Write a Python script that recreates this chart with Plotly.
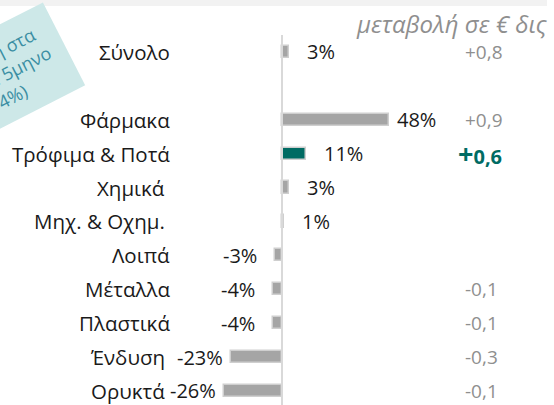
import plotly.graph_objects as go

categories = ["Σύνολο", "Φάρμακα", "Τρόφιμα & Ποτά", "Χημικά\u00a0", "Μηχ. & Οχημ.\u00a0",
              "Λοιπά", "Μέταλλα", "Πλαστικά", "Ένδυση\u00a0", "Ορυκτά\u00a0"]
pct_change = [3, 48, 11, 3, 1, -3, -4, -4, -23, -26]
eur_change = ["+0,8", "+0,9", "+0,6", "", "", "", "-0,1", "-0,1", "-0,3", "-0,1"]
highlight = "Τρόφιμα & Ποτά"
title_text = "μεταβολή σε € δις"
box_lines = ["Συμβολή στα", "εξαγωγ. 5μηνο", "(14%)"]

W, H = 554, 405
FONT = "Open Sans"
GRAY_BAR = "#a5a5a5"
TEAL = "#006b63"
GRAY_TXT = "#8f8f8f"

n = len(categories)
# top item (total) separated by an empty slot
ypos = [n - 1 - i + (1 if i == 0 else 0) for i in range(n)]

colors = [TEAL if c == highlight else GRAY_BAR for c in categories]

fig = go.Figure()
fig.add_trace(go.Bar(
    x=pct_change, y=ypos, orientation="h", width=0.36,
    marker=dict(color=colors, line=dict(color="#cfcfcf", width=1.5)),
    hoverinfo="skip",
))

# zero line
fig.add_shape(type="line", x0=0, x1=0, y0=-1, y1=10.5, xref="x", yref="y",
              line=dict(color="#d9d9d9", width=2), layer="above")

ann = []
for c, v, yv, e in zip(categories, pct_change, ypos, eur_change):
    # category label
    ann.append(dict(x=172 / W, xref="paper", y=yv, yref="y", text=c, showarrow=False,
                    xanchor="right", yanchor="middle",
                    font=dict(family=FONT, size=20.5, color="#1a1a1a")))
    # percent label
    gap = 6 if abs(v) > 20 else 16
    ann.append(dict(x=v, xref="x", y=yv, yref="y", text=f"{v}%", showarrow=False,
                    xanchor="left" if v >= 0 else "right", yanchor="middle",
                    xshift=gap if v >= 0 else -gap,
                    font=dict(family=FONT, size=20, color="#1a1a1a")))
    # euro change
    if e:
        if c == highlight:
            txt = "<b><span style='font-size:27px'>" + e[0] + "</span>" + e[1:] + "</b>"
            col = TEAL
            xa = 456 / W
            fs = 20
        else:
            txt = e
            col = GRAY_TXT
            xa = 463 / W
            fs = 19
        ann.append(dict(x=xa, xref="paper", y=yv, yref="y", text=txt, showarrow=False,
                        xanchor="left", yanchor="middle",
                        font=dict(family=FONT, size=fs, color=col)))

# title
ann.append(dict(x=354 / W, xref="paper", y=1 - 23 / H, yref="paper", text=f"<i>{title_text}</i>",
                showarrow=False, xanchor="left", yanchor="middle",
                font=dict(family=FONT, size=24, color=GRAY_TXT)))

# rotated callout box
ann.append(dict(x=-5 / W, xref="paper", y=1 - 79 / H, yref="paper",
                text="<br>".join(box_lines), showarrow=False,
                xanchor="center", yanchor="middle", textangle=-27, align="center",
                bgcolor="#cde8e8", borderpad=11, width=132, height=70,
                font=dict(family=FONT, size=18, color="#3a8ea3")))

# top band
fig.add_shape(type="rect", xref="paper", yref="paper", x0=0, x1=547 / W, y0=1 - 6 / H, y1=1,
              fillcolor="#f2f2f2", line=dict(width=0), layer="below")

fig.update_layout(
    width=W, height=H, margin=dict(l=0, r=0, t=0, b=0),
    paper_bgcolor="white", plot_bgcolor="rgba(0,0,0,0)",
    showlegend=False, annotations=ann,
    xaxis=dict(range=[-127, 122.5], visible=False, fixedrange=True),
    yaxis=dict(range=[-0.413, 11.53], visible=False, fixedrange=True),
    bargap=0,
)
fig.write_html("out.html", config={"displayModeBar": False},
               post_script="document.body.style.margin='0';document.body.style.padding='0';")
